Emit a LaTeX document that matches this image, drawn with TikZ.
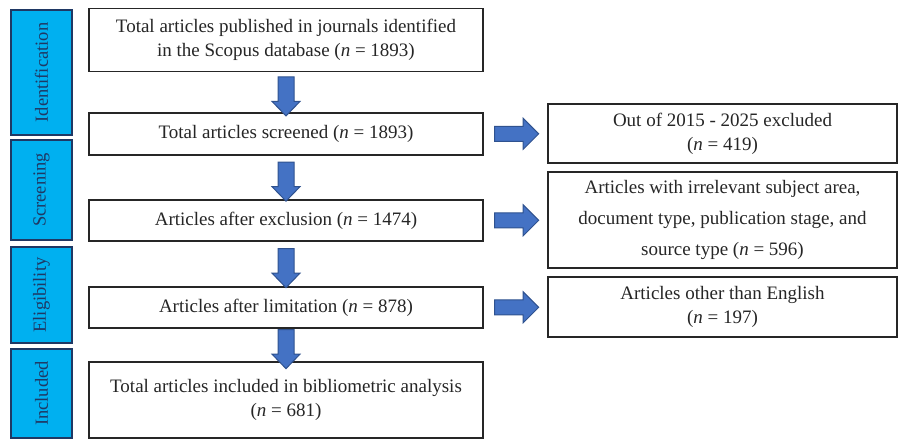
\documentclass[tikz,border=0pt]{standalone}
\usepackage{fontspec}
\setmainfont{Liberation Serif}
\usetikzlibrary{shapes.arrows, positioning}
\definecolor{stagefill}{RGB}{0,176,240}
\definecolor{stageline}{RGB}{31,56,100}
\definecolor{flowfill}{RGB}{68,114,196}
\definecolor{flowline}{RGB}{47,82,143}
\newcommand{\nn}{\textit{n}}

\begin{document}
\begin{tikzpicture}[x=1pt, y=-1pt,
  box/.style={rectangle, draw=black!85, line width=1.3pt, fill=white, minimum width=394pt,
              align=center, inner sep=2pt, text=black!85, font=\fontsize{19}{24}\selectfont},
  sidebox/.style={box, minimum width=349pt},
  stage/.style={rectangle, draw=stageline, line width=1.3pt, fill=stagefill, rotate=90,
                minimum height=61pt, inner sep=1pt, text=stageline, font=\fontsize{18.5}{22}\selectfont},
  flowarr/.style={single arrow, draw=flowline, fill=flowfill, line width=1pt, inner xsep=0pt},
  downarr/.style={flowarr, inner ysep=7.5pt, single arrow head extend=6pt,
                  single arrow tip angle=88, minimum height=39pt, rotate=-90},
  sidearr/.style={flowarr, inner ysep=7pt, single arrow head extend=8pt,
                  single arrow tip angle=90, minimum height=44pt}
]
  \useasboundingbox (0,0) rectangle (899,439);
  % stages
  \node[stage, minimum width=125pt] (ident) at (41.5,72.5) {Identification};
  \node[stage, minimum width=100pt] (scr)   at (41.5,190)  {Screening};
  \node[stage, minimum width=96pt]  (elig)  at (41.5,295)  {Eligibility};
  \node[stage, minimum width=89pt]  (incl)  at (41.5,393.5) {Included};
  % main flow
  \node[box, minimum height=63pt] (total)  at (286,40)    {Total articles published in journals identified\\in the Scopus database (\nn{} = 1893)};
  \node[box, minimum height=42pt] (screen) at (286,134)   {Total articles screened (\nn{} = 1893)};
  \node[box, minimum height=41pt] (excl)   at (286,220.5) {Articles after exclusion (\nn{} = 1474)};
  \node[box, minimum height=41pt] (limit)  at (286,307.5) {Articles after limitation (\nn{} = 878)};
  \node[box, minimum height=76pt] (final)  at (286,400)   {Total articles included in bibliometric analysis\\(\nn{} = 681)};
  % excluded records
  \node[sidebox, minimum height=59pt] (year) at (722.5,133.5) {Out of 2015 - 2025 excluded\\(\nn{} = 419)};
  \node[sidebox, minimum height=96pt] (subj) at (722.5,220)   {Articles with irrelevant subject area,\\[7pt]document type, publication stage, and\\[7pt]source type (\nn{} = 596)};
  \node[sidebox, minimum height=60pt] (lang) at (722.5,307)   {Articles other than English\\(\nn{} = 197)};
  % arrows
  \path (total)  -- node[downarr] {} (screen);
  \path (screen) -- node[downarr] {} (excl);
  \path (excl)   -- node[downarr] {} (limit);
  \path (limit)  -- node[downarr] {} (final);
  \path (screen.east) -- node[sidearr, pos=0.46] {} (year.west);
  \path (excl.east)   -- node[sidearr, pos=0.46] {} (subj.west);
  \path (limit.east)  -- node[sidearr, pos=0.46] {} (lang.west);
\end{tikzpicture}
\end{document}
